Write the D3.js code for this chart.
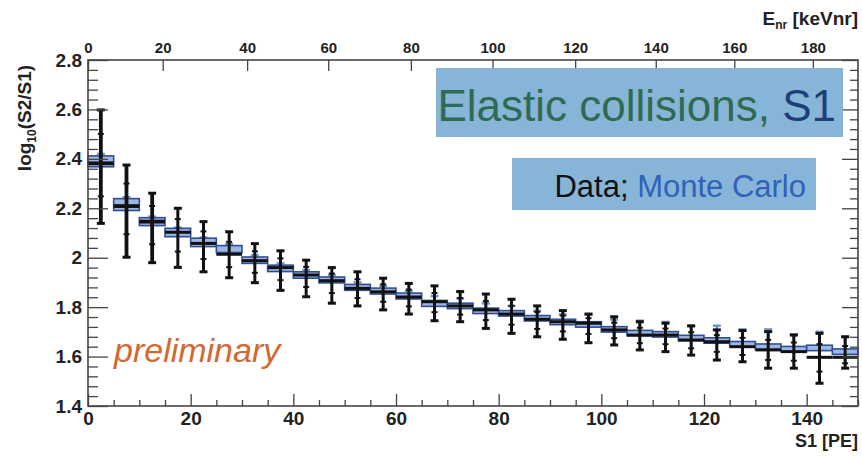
<!DOCTYPE html>
<html>
<head>
<meta charset="utf-8">
<script src="https://cdn.jsdelivr.net/npm/d3@7"></script>
<style>
  body { margin: 0; background: #fff; }
  svg text { font-family: "Liberation Sans", Arial, sans-serif; }
</style>
</head>
<body>
<svg id="chart" width="862" height="457"></svg>
<script>
// S1 bins (PE)
const binLo = [0, 5, 10, 15, 20, 25, 30, 35, 40, 45, 50, 55, 60, 65, 70, 75, 80, 85, 90, 95, 100, 105, 110, 115, 120, 125, 130, 135, 140, 145];
const binHi = [5, 10, 15, 20, 25, 30, 35, 40, 45, 50, 55, 60, 65, 70, 75, 80, 85, 90, 95, 100, 105, 110, 115, 120, 125, 130, 135, 140, 145, 150];

// data: log10(S2/S1) and error bar ends
const dataVal = [2.382, 2.209, 2.146, 2.103, 2.058, 2.014, 1.988, 1.960, 1.930, 1.907, 1.876, 1.862, 1.841, 1.822, 1.805, 1.789, 1.772, 1.751, 1.741, 1.735, 1.708, 1.687, 1.687, 1.667, 1.660, 1.640, 1.627, 1.620, 1.597, 1.597];
const dataHi  = [2.598, 2.375, 2.261, 2.200, 2.146, 2.105, 2.057, 2.028, 1.990, 1.960, 1.943, 1.917, 1.896, 1.886, 1.863, 1.853, 1.832, 1.805, 1.786, 1.772, 1.761, 1.741, 1.735, 1.724, 1.708, 1.705, 1.701, 1.687, 1.694, 1.680];
const dataLo  = [2.139, 2.002, 1.980, 1.961, 1.943, 1.919, 1.899, 1.868, 1.842, 1.816, 1.805, 1.789, 1.772, 1.745, 1.741, 1.714, 1.694, 1.680, 1.670, 1.656, 1.647, 1.627, 1.620, 1.606, 1.586, 1.579, 1.553, 1.553, 1.492, 1.553];

// Monte Carlo: value, box half height, error bar half length
const mcVal = [2.390, 2.215, 2.146, 2.102, 2.062, 2.035, 1.990, 1.957, 1.930, 1.910, 1.880, 1.865, 1.845, 1.815, 1.805, 1.785, 1.775, 1.755, 1.740, 1.730, 1.710, 1.695, 1.690, 1.675, 1.665, 1.650, 1.640, 1.630, 1.635, 1.620];
const mcBox = [0.022, 0.024, 0.016, 0.017, 0.017, 0.014, 0.013, 0.013, 0.013, 0.012, 0.012, 0.012, 0.012, 0.012, 0.011, 0.011, 0.011, 0.011, 0.011, 0.011, 0.011, 0.011, 0.011, 0.011, 0.011, 0.011, 0.011, 0.011, 0.011, 0.011];
const mcErr = [0.03, 0.03, 0.02, 0.02, 0.02, 0.02, 0.02, 0.02, 0.02, 0.02, 0.02, 0.02, 0.02, 0.03, 0.03, 0.03, 0.03, 0.03, 0.03, 0.04, 0.04, 0.05, 0.05, 0.05, 0.06, 0.06, 0.07, 0.06, 0.065, 0.06];

// axes
const xMajor = [0, 20, 40, 60, 80, 100, 120, 140];
const yMajor = [1.4, 1.6, 1.8, 2.0, 2.2, 2.4, 2.6, 2.8];
const yLabels = ["1.4", "1.6", "1.8", "2", "2.2", "2.4", "2.6", "2.8"];
// top axis: nuclear recoil energy ticks and the S1 value they sit at
const enrTicks = [0, 20, 40, 60, 80, 100, 120, 140, 160, 180];
const enrAtS1 = [0, 14.55, 31.0, 46.8, 62.9, 78.8, 94.9, 110.6, 125.9, 141.2];

const svg = d3.select("#chart");
const pL = 88, pR = 858, pT = 60, pB = 406;

const x = d3.scaleLinear().domain([0, 150]).range([pL, pR]);
const y = d3.scaleLinear().domain([1.4, 2.8]).range([pB, pT]);
const xTop = d3.scaleLinear().domain(enrTicks).range(enrAtS1.map(d => x(d)));

const idx = d3.range(binLo.length);
const axisCol = "#444";

// minor tick values
const xMinor = d3.range(0, 151, 5).filter(v => v % 20 !== 0);
const yMinor = d3.range(1.4, 2.801, 0.04).map(v => +v.toFixed(2)).filter(v => !yMajor.includes(v));

// ---- MC boxes
const mc = svg.append("g");
mc.selectAll("line.mcerr")
  .data(idx)
  .enter().append("line")
    .attr("x1", i => x((binLo[i] + binHi[i]) / 2))
    .attr("x2", i => x((binLo[i] + binHi[i]) / 2))
    .attr("y1", i => y(mcVal[i] + mcErr[i]))
    .attr("y2", i => y(mcVal[i] - mcErr[i]))
    .attr("stroke", "#6f93d0").attr("stroke-width", 2.5);
mc.selectAll("line.mccap")
  .data(idx)
  .enter().append("line")
    .attr("x1", i => x((binLo[i] + binHi[i]) / 2) - 4)
    .attr("x2", i => x((binLo[i] + binHi[i]) / 2) + 4)
    .attr("y1", i => y(mcVal[i] + mcErr[i]))
    .attr("y2", i => y(mcVal[i] + mcErr[i]))
    .attr("stroke", "#6f93d0").attr("stroke-width", 2.5);
mc.selectAll("rect")
  .data(idx)
  .enter().append("rect")
    .attr("x", i => x(binLo[i]))
    .attr("width", i => x(binHi[i]) - x(binLo[i]))
    .attr("y", i => y(mcVal[i] + mcBox[i]))
    .attr("height", i => y(mcVal[i] - mcBox[i]) - y(mcVal[i] + mcBox[i]))
    .attr("fill", "#9fb6e2")
    .attr("stroke", "#2f4f94")
    .attr("stroke-width", 1.6);

// ---- data
const dg = svg.append("g").attr("stroke", "#111");
idx.forEach(i => {
  const cx = x((binLo[i] + binHi[i]) / 2);
  const w = i < 3 ? 3.8 : 3;
  dg.append("line")
    .attr("x1", x(binLo[i])).attr("x2", x(binHi[i]))
    .attr("y1", y(dataVal[i])).attr("y2", y(dataVal[i]))
    .attr("stroke-width", w);
  dg.append("line")
    .attr("x1", cx).attr("x2", cx)
    .attr("y1", y(dataHi[i])).attr("y2", y(dataLo[i]))
    .attr("stroke-width", w);
  [dataHi[i], dataLo[i]].forEach(v => {
    dg.append("line")
      .attr("x1", cx - 4).attr("x2", cx + 4)
      .attr("y1", y(v)).attr("y2", y(v))
      .attr("stroke-width", 3);
  });
  // inner (statistical) marks
  [dataVal[i] + (dataHi[i] - dataVal[i]) * 0.55, dataVal[i] - (dataVal[i] - dataLo[i]) * 0.55].forEach(v => {
    dg.append("line")
      .attr("x1", cx - 3).attr("x2", cx + 3)
      .attr("y1", y(v)).attr("y2", y(v))
      .attr("stroke-width", 2);
  });
});

// ---- frame and axes
function styleAxis(g) {
  g.select(".domain").remove();
  g.selectAll(".tick line").attr("stroke", axisCol).attr("stroke-width", 1.3);
  g.selectAll("text").attr("fill", "#222").attr("font-weight", "bold");
}

svg.append("rect")
  .attr("x", pL).attr("y", pT)
  .attr("width", pR - pL).attr("height", pB - pT)
  .attr("fill", "none").attr("stroke", axisCol).attr("stroke-width", 1.6);

// bottom
svg.append("g").attr("transform", `translate(0,${pB})`)
  .call(d3.axisBottom(x).tickValues(xMajor).tickSize(-12).tickPadding(6).tickFormat(d3.format("d")))
  .call(styleAxis)
  .call(g => g.selectAll("text").attr("font-size", 19));
svg.append("g").attr("transform", `translate(0,${pB})`)
  .call(d3.axisBottom(x).tickValues(xMinor).tickSize(-6).tickFormat(""))
  .call(styleAxis);

// left
svg.append("g").attr("transform", `translate(${pL},0)`)
  .call(d3.axisLeft(y).tickValues(yMajor).tickSize(-20).tickPadding(6).tickFormat((d, i) => yLabels[i]))
  .call(styleAxis)
  .call(g => g.selectAll("text").attr("font-size", 19));
svg.append("g").attr("transform", `translate(${pL},0)`)
  .call(d3.axisLeft(y).tickValues(yMinor).tickSize(-10).tickFormat(""))
  .call(styleAxis);

// right (mirrored ticks)
svg.append("g").attr("transform", `translate(${pR},0)`)
  .call(d3.axisRight(y).tickValues(yMajor).tickSize(-16).tickFormat(""))
  .call(styleAxis);
svg.append("g").attr("transform", `translate(${pR},0)`)
  .call(d3.axisRight(y).tickValues(yMinor).tickSize(-8).tickFormat(""))
  .call(styleAxis);

// top (E_nr)
svg.append("g").attr("transform", `translate(0,${pT})`)
  .call(d3.axisTop(xTop).tickValues(enrTicks).tickSize(-11).tickPadding(7).tickFormat(d3.format("d")))
  .call(styleAxis)
  .call(g => g.selectAll("text").attr("font-size", 15));

// axis titles
svg.append("text")
  .attr("x", 858).attr("y", 447)
  .attr("text-anchor", "end").attr("font-size", 18).attr("font-weight", "bold").attr("fill", "#222")
  .text("S1 [PE]");

const et = svg.append("text")
  .attr("x", 858).attr("y", 25)
  .attr("text-anchor", "end").attr("font-size", 19).attr("font-weight", "bold").attr("fill", "#222");
et.append("tspan").text("E");
et.append("tspan").attr("font-size", 12).attr("dy", 4).text("nr");
et.append("tspan").attr("dy", -4).text(" [keVnr]");

const yt = svg.append("text")
  .attr("transform", "translate(31,118) rotate(-90)")
  .attr("text-anchor", "middle").attr("font-size", 19).attr("font-weight", "bold").attr("fill", "#222");
yt.append("tspan").text("log");
yt.append("tspan").attr("font-size", 12).attr("dy", 5).text("10");
yt.append("tspan").attr("dy", -5).text("(S2/S1)");

// ---- annotations
svg.append("rect")
  .attr("x", 436).attr("y", 68).attr("width", 407).attr("height", 69)
  .attr("fill", "#86b5d8");
const t1 = svg.append("text")
  .attr("x", 836).attr("y", 121).attr("text-anchor", "end").attr("font-size", 44);
t1.append("tspan").attr("fill", "#2f6b52").text("Elastic collisions, ");
t1.append("tspan").attr("fill", "#1d3f78").text("S1");

svg.append("rect")
  .attr("x", 512).attr("y", 158).attr("width", 304).attr("height", 52)
  .attr("fill", "#86b5d8");
const t2 = svg.append("text")
  .attr("x", 806).attr("y", 197).attr("text-anchor", "end").attr("font-size", 31);
t2.append("tspan").attr("fill", "#111").text("Data; ");
t2.append("tspan").attr("fill", "#2f62b8").text("Monte Carlo");

svg.append("text")
  .attr("x", 114).attr("y", 362)
  .attr("font-size", 34).attr("font-style", "italic").attr("fill", "#d2692e")
  .text("preliminary");
</script>
</body>
</html>
